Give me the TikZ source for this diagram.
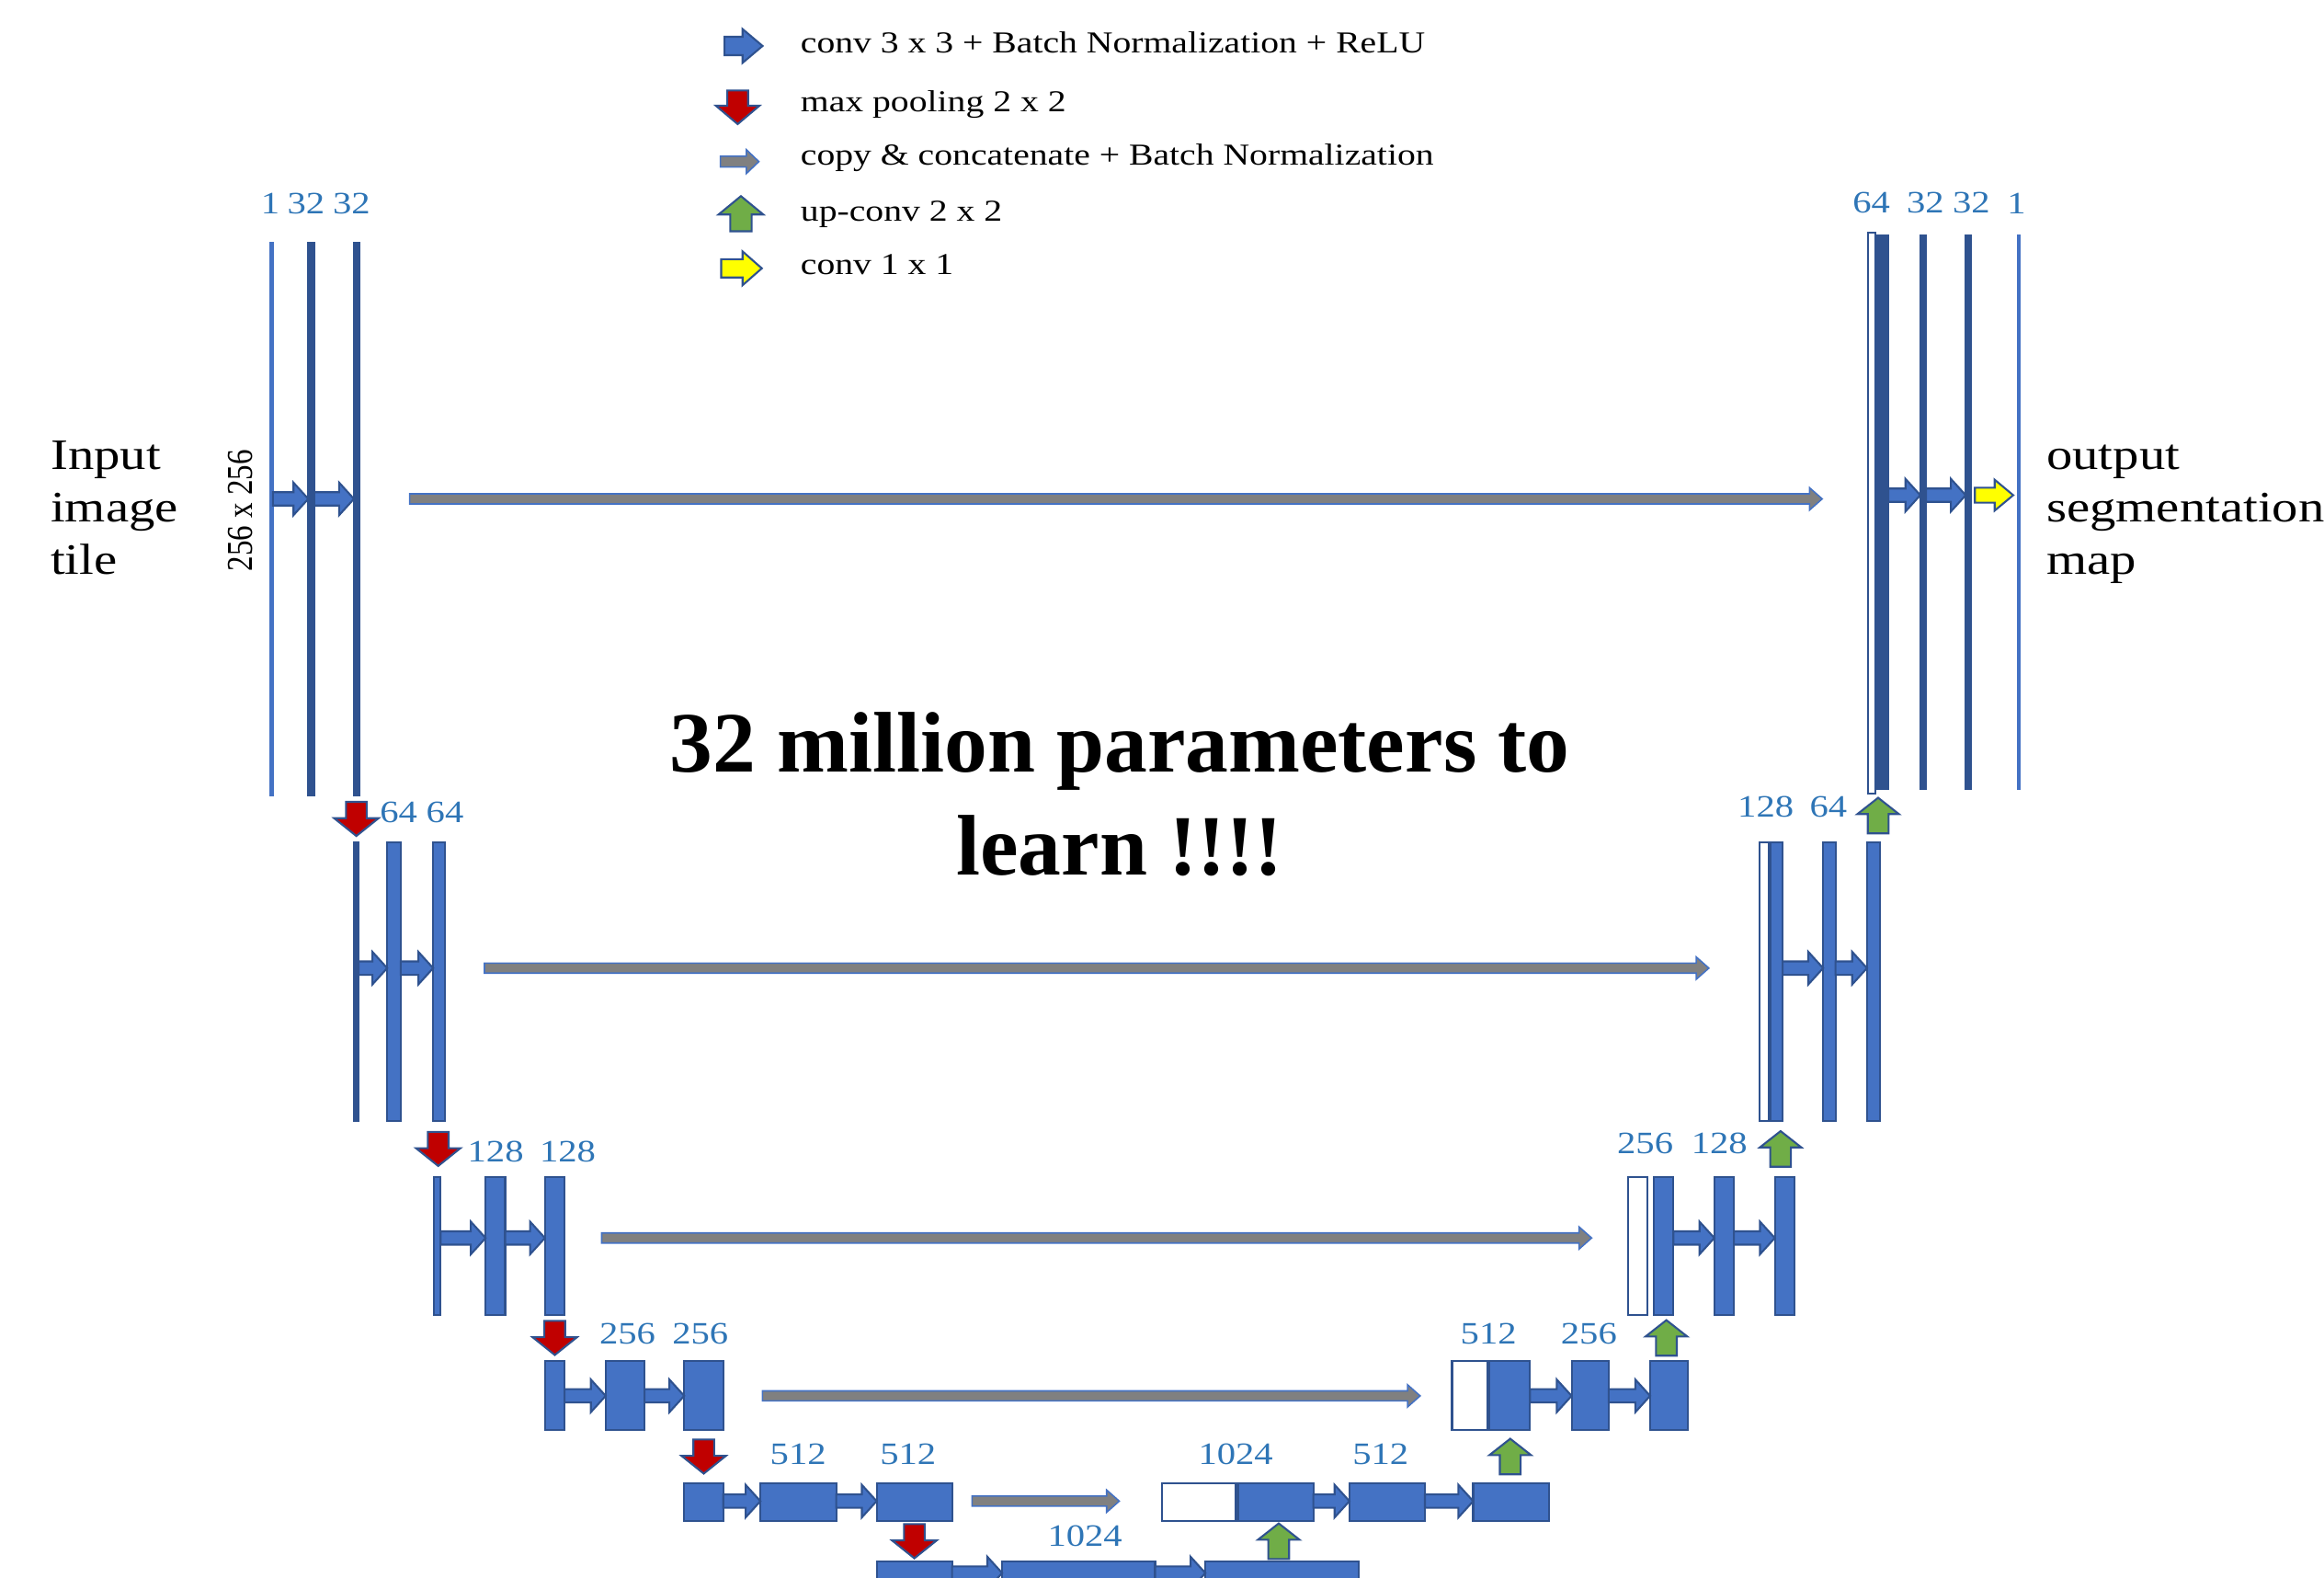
\documentclass[tikz,border=0pt]{standalone}
\usepackage{fontspec}
\usepackage{graphicx}
\setmainfont{Liberation Serif}
\newfontfamily\unetfont[FakeStretch=1.2]{Liberation Serif}
\usetikzlibrary{calc,positioning}
\definecolor{UNetBlue}{HTML}{4472C4}
\definecolor{UNetNavy}{HTML}{2F528F}
\definecolor{UNetLabel}{HTML}{2E75B6}
\definecolor{UNetRed}{HTML}{C00000}
\definecolor{UNetGreen}{HTML}{70AD47}
\definecolor{UNetYellow}{HTML}{FFFF00}
\definecolor{UNetGray}{HTML}{808080}
\tikzset{
  unet/map/.style={draw=UNetNavy, fill=UNetBlue, line width=1.3pt,
    inner sep=0pt, outer sep=0pt},
  unet/dark/.style={unet/map, fill=UNetNavy},
  unet/light/.style={unet/map, draw=UNetBlue, line width=1pt},
  unet/copied/.style={unet/map, fill=white},
  % block arrows: half shaft, half head, head length, tail gap, tip gap
  unet/hblock/.style n args={5}{
    to path={let \p1=(\tikztostart), \p2=(\tikztotarget) in
      (\x1+#4pt,\y1+#1pt) -- (\x2-#5pt-#3pt,\y1+#1pt) -- (\x2-#5pt-#3pt,\y1+#2pt)
      -- (\x2-#5pt,\y1) -- (\x2-#5pt-#3pt,\y1-#2pt) -- (\x2-#5pt-#3pt,\y1-#1pt)
      -- (\x1+#4pt,\y1-#1pt) -- cycle}},
  % sign (1 up, -1 down), half shaft, half head, head length, half length
  unet/vblock/.style n args={5}{
    to path={let \p1=($(\tikztostart)!.5!(\tikztotarget)$) in
      ({\x1-#2pt},{\y1-(#1)*#5pt}) -- ({\x1-#2pt},{\y1+(#1)*#5pt-(#1)*#4pt})
      -- ({\x1-#3pt},{\y1+(#1)*#5pt-(#1)*#4pt}) -- ({\x1},{\y1+(#1)*#5pt})
      -- ({\x1+#3pt},{\y1+(#1)*#5pt-(#1)*#4pt}) -- ({\x1+#2pt},{\y1+(#1)*#5pt-(#1)*#4pt})
      -- ({\x1+#2pt},{\y1-(#1)*#5pt}) -- cycle}},
  unet/conv/.style={unet/hblock={4.5}{11}{10}{0}{0},
    draw=UNetNavy, fill=UNetBlue, line width=1.3pt},
  unet/copy/.style 2 args={unet/hblock={3.4}{7.5}{8.5}{#1}{#2},
    draw=UNetBlue, fill=UNetGray, line width=1pt},
  unet/pool/.style={unet/vblock={-1}{7}{15}{12}{11.5},
    draw=UNetNavy, fill=UNetRed, line width=1.3pt},
  unet/up/.style={unet/vblock={1}{7}{14}{11}{12},
    draw=UNetNavy, fill=UNetGreen, line width=1.3pt},
  unet/final/.style={unet/hblock={5}{10.4}{12.5}{2.7}{3},
    draw=UNetNavy, fill=UNetYellow, line width=1.3pt},
  unet/ch/.style={font=\unetfont\fontsize{21}{25}\selectfont,
    text=UNetLabel, inner sep=0pt},
  unet/key/.style={font=\unetfont\fontsize{20.5}{25}\selectfont,
    anchor=base west, inner sep=0pt},
  unet/side/.style={font=\unetfont\fontsize{29.3}{35.5}\selectfont,
    align=left, anchor=north west, inner sep=0pt},
  unet/title/.style={font=\bfseries\fontsize{58}{70}\selectfont,
    anchor=base, inner sep=0pt}
}

\begin{document}
\begin{tikzpicture}[x=1pt, y=-1pt]
  \useasboundingbox (0,0) rectangle (1568,1064);
  \clip (0,0) rectangle (1568,1064);

  % legend
  \coordinate (kconv) at (488.8,31);   \coordinate (kconv') at (514.5,31);
  \coordinate (kpool) at (497.7,61);   \coordinate (kpool') at (497.7,83.7);
  \coordinate (kcopy) at (486,109);    \coordinate (kcopy') at (512,109);
  \coordinate (kup) at (499.9,156);    \coordinate (kup') at (499.9,132.3);
  \coordinate (kout) at (486.6,181);   \coordinate (kout') at (514,181);
  \draw[unet/conv, unet/hblock={6.2}{11.4}{13.5}{0}{0}] (kconv) to (kconv');
  \draw[unet/pool, unet/vblock={-1}{7}{14.7}{12.4}{11.35}] (kpool) to (kpool');
  \draw[unet/copy={0}{0}, unet/hblock={3.65}{8}{8.4}{0}{0}] (kcopy) to (kcopy');
  \draw[unet/up, unet/vblock={1}{7.2}{15.1}{12.4}{11.85}] (kup) to (kup');
  \draw[unet/final, unet/hblock={6.15}{11.4}{13}{0}{0}] (kout) to (kout');
  \node[unet/key] (key1) at (540,35.6) {conv 3 x 3 + Batch Normalization + ReLU};
  \node[unet/key] (key2) at (540,75.5) {max pooling 2 x 2};
  \node[unet/key] (key3) at (540,111.6) {copy \& concatenate + Batch Normalization};
  \node[unet/key] (key4) at (540,149.3) {up-conv 2 x 2};
  \node[unet/key] (key5) at (540,185) {conv 1 x 1};

  % feature maps
  \foreach \n/\s/\x/\w in {l1a/light/183.3/1.6pt, l1b/dark/210/4pt, l1c/dark/240.6/3.6pt}
    \node[unet/\s, minimum width=\w, minimum height=373pt] (\n) at (\x,350) {};
  \node[unet/copied, minimum width=5pt, minimum height=378.5pt] (r1w) at (1262.9,346.2) {};
  \foreach \n/\s/\x/\w in {r1a/dark/1270.35/7.4pt, r1b/dark/1297.5/3.8pt,
      r1c/dark/1328/3.5pt, r1d/light/1362/1.4pt}
    \node[unet/\s, minimum width=\w, minimum height=373.4pt] (\n) at (\x,345.3) {};
  \foreach \n/\s/\x/\w in {l2a/dark/240.25/3.3pt, l2b/map/265.8/9.1pt, l2c/map/296.3/8.1pt,
      r2w/copied/1190.3/6.1pt, r2a/map/1198.7/8.1pt, r2b/map/1234.2/8.3pt, r2c/map/1264/8.7pt}
    \node[unet/\s, minimum width=\w, minimum height=188pt] (\n) at (\x,662.2) {};
  \foreach \n/\s/\x/\w in {l3a/map/295/4.7pt, l3b/map/334.25/13.2pt, l3c/map/374.3/13.3pt,
      r3w/copied/1104.8/13.1pt, r3a/map/1122.5/13.2pt, r3b/map/1163.25/13.2pt, r3c/map/1204/13.1pt}
    \node[unet/\s, minimum width=\w, minimum height=93.1pt] (\n) at (\x,840.2) {};
  \foreach \n/\s/\x/\w in {l4a/map/374.3/13.3pt, l4b/map/421.75/26.2pt, l4c/map/474.85/26.4pt,
      r4w/copied/991.5/23.7pt, r4a/map/1018.5/27.7pt, r4b/map/1072.85/25pt, r4c/map/1126.1/25.5pt}
    \node[unet/\s, minimum width=\w, minimum height=46.4pt] (\n) at (\x,941.3) {};
  \foreach \n/\s/\x/\w in {l5a/map/474.8/26.3pt, l5b/map/538.6/51.1pt, l5c/map/616.9/50.9pt,
      r5w/copied/809/49.7pt, r5a/map/860.6/50.9pt, r5b/map/935.9/50.9pt, r5c/map/1019.4/50.9pt}
    \node[unet/\s, minimum width=\w, minimum height=25.7pt] (\n) at (\x,1013.2) {};
  \foreach \n/\s/\x/\w in {l6a/map/616.9/50.9pt, l6b/map/727.75/103.2pt, l6c/map/864.9/103.3pt}
    \node[unet/\s, minimum width=\w, minimum height=27pt] (\n) at (\x,1066.5) {};

  % arrow rows
  \coordinate (row1) at (0,336.5);
  \coordinate (row1r) at (0,334);
  \coordinate (row2) at (0,653);
  \coordinate (row3) at (0,835);
  \coordinate (row4) at (0,941.5);
  \coordinate (row5) at (0,1012.5);
  \coordinate (row6) at (0,1061);

  \foreach \a/\b/\r in {l1a/l1b/row1, l1b/l1c/row1, r1a/r1b/row1r, r1b/r1c/row1r,
      l2a/l2b/row2, l2b/l2c/row2, r2a/r2b/row2, r2b/r2c/row2,
      l3a/l3b/row3, l3b/l3c/row3, r3a/r3b/row3, r3b/r3c/row3,
      l4a/l4b/row4, l4b/l4c/row4, r4a/r4b/row4, r4b/r4c/row4,
      l5a/l5b/row5, l5b/l5c/row5, r5a/r5b/row5, r5b/r5c/row5,
      l6a/l6b/row6, l6b/l6c/row6}
    \draw[unet/conv] (\a.east |- \r) to (\b.west |- \r);
  \foreach \a/\b/\r/\g/\h in {l1c/r1w/row1/34/31, l2c/r2w/row2/26.5/34.3,
      l3c/r3w/row3/25/24.4, l4c/r4w/row4/26.4/21.5, l5c/r5w/row5/13.5/29}
    \draw[unet/copy={\g}{\h}] (\a.east |- \r) to (\b.west |- \r);
  \foreach \a/\b in {l1c/l2a, l2c/l3a, l3c/l4a, l4c/l5a, l5c/l6a}
    \draw[unet/pool] (\a.south) to (\b.north);
  \foreach \a/\b in {l6c/r5a, r5c/r4a, r4c/r3a, r3c/r2a, r2c/r1a}
    \draw[unet/up] (\a.north) to (\b.south);
  \draw[unet/final] (r1c.east |- row1r) to (r1d.west |- row1r);

  % channel counts
  \foreach \n/\x/\y/\t in {c1a/182.4/137.3/1, c1b/206.5/137.3/32, c1c/237.2/137.3/32,
      d1a/1262.6/137/64, d1b/1299/137/32, d1c/1330/137/32, d1d/1360.5/137/1,
      c2a/269/548/64, c2b/300.2/548/64, d2a/1191.3/544.4/128, d2b/1233.6/544.4/64,
      c3a/334.4/776.5/128, c3b/383/776.5/128, d3a/1110/771/256, d3b/1160/771/128,
      c4a/423.3/899.5/256, c4b/472.5/899.5/256, d4a/1004.3/899.7/512, d4b/1072/899.7/256,
      c5a/538.5/981/512, c5b/612.7/981/512, d5a/833.7/981/1024, d5b/931.5/981/512,
      c6a/732/1036/1024}
    \node[unet/ch] (\n) at (\x,\y) {\t};

  \node[font=\fontsize{20.5}{24}\selectfont, rotate=90, inner sep=0pt] (tilesize)
    at (162,344.5) {\scalebox{1}[1.2]{256 x 256}};
  \node[unet/side] (intile) at (34,297) {Input\\image\\tile};
  \node[unet/side] (outmap) at (1380.6,299.7) {output\\segmentation\\map};

  \node[unet/title] (title1) at (755.5,521) {32 million parameters to};
  \node[unet/title] (title2) at ([yshift=-69pt]title1.base) {learn !!!!};
\end{tikzpicture}
\end{document}
